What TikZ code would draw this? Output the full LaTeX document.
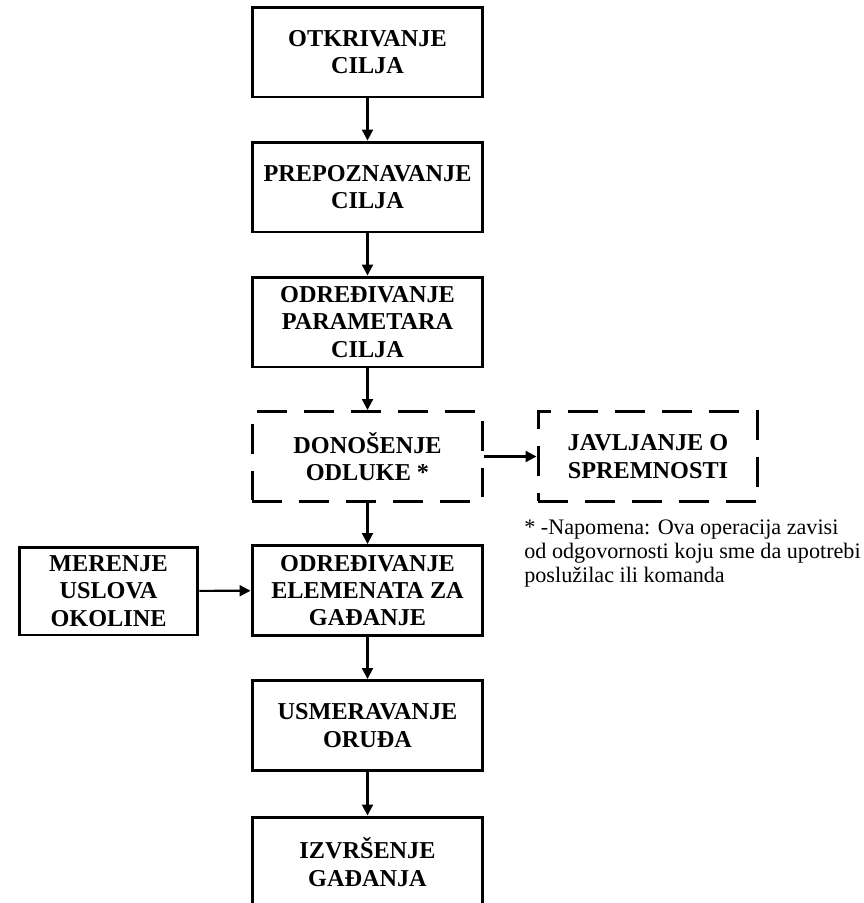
\documentclass[tikz,border=0pt]{standalone}
\usepackage{fontspec}
\setmainfont{Liberation Serif}
\usetikzlibrary{arrows.meta}
\begin{document}
\begin{tikzpicture}[x=0.02cm,y=-0.02cm,
box/.style={draw,line width=1.7pt,minimum width=4.62cm,minimum height=1.8cm,align=center,inner sep=0pt,font=\fontsize{13.8}{15.5}\selectfont\bfseries},
dbox/.style={box,dash pattern=on 0.6cm off 0.34cm},
arr/.style={-{Triangle[length=0.22cm,width=0.22cm]},line width=1.2pt}]
\useasboundingbox(0,0)rectangle(864,903);
\node[box](otk)at(367.5,52){OTKRIVANJE\\CILJA};
\node[box](pre)at(367.5,187){PREPOZNAVANJE\\CILJA};
\node[box](par)at(367.5,322){ODREĐIVANJE\\PARAMETARA\\CILJA};
\node[dbox](don)at(367.5,456.5){DONOŠENJE\\ODLUKE *};
\node[dbox,minimum width=4.4cm](jav)at(648,456.5){JAVLJANJE O\\SPREMNOSTI};
\node[box](ele)at(367.5,590.5){ODREĐIVANJE\\ELEMENATA ZA\\GAĐANJE};
\node[box,minimum width=3.58cm,minimum height=1.76cm](mer)at(108.5,591){MERENJE\\USLOVA\\OKOLINE};
\node[box](usm)at(367.5,725.5){USMERAVANJE\\ORUĐA};
\node[box](izv)at(367.5,862){IZVRŠENJE\\GAĐANJA};
\node[anchor=north west,align=left,inner sep=0pt,font=\fontsize{12.6}{13.8}\selectfont](nap)at(524,519){* -Napomena: Ova operacija zavisi\\od odgovornosti koju sme da upotrebi\\poslužilac ili komanda};
\foreach\a/\b in{otk/pre,pre/par,par/don,don/ele,ele/usm,usm/izv}
\draw[arr](\a)--(\b);
\draw[arr](don)--(jav);
\draw[arr](mer)--(ele);
\end{tikzpicture}
\end{document}
